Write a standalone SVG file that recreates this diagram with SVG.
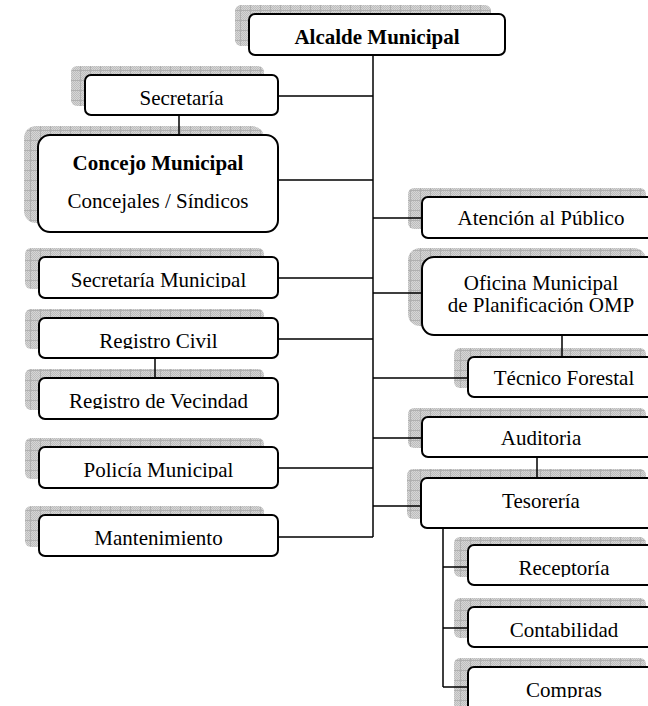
<svg xmlns="http://www.w3.org/2000/svg" width="648" height="706" viewBox="0 0 648 706" font-family="'Liberation Serif', 'Times New Roman', 'DejaVu Serif', serif">
<defs>
<pattern id="dots" width="2" height="2" patternUnits="userSpaceOnUse"><rect width="2" height="2" fill="#d6d6d6"/><rect width="1" height="1" fill="#bdbdbd"/><rect x="1" y="1" width="1" height="1" fill="#bdbdbd"/></pattern>
<pattern id="hatch" width="10" height="10" patternUnits="userSpaceOnUse"><rect width="10" height="10" fill="url(#dots)"/><path d="M0 0.5H10M0.5 0V10" stroke="#b0b0b0" stroke-width="1"/></pattern>
<clipPath id="c-secmun"><rect x="39" y="257" width="239" height="31"/></clipPath>
<clipPath id="c-regciv"><rect x="39" y="318" width="239" height="31"/></clipPath>
<clipPath id="c-regvec"><rect x="39" y="378" width="239" height="31"/></clipPath>
<clipPath id="c-pol"><rect x="39" y="447" width="239" height="31"/></clipPath>
<clipPath id="c-rec"><rect x="468" y="545" width="192" height="32"/></clipPath>
<clipPath id="c-com"><rect x="468" y="667" width="192" height="31"/></clipPath>
</defs>
<style>
.box{fill:#fff;stroke:#000;stroke-width:2}
.sh{fill:url(#hatch)}
.t{font-family:'Liberation Serif','Times New Roman','DejaVu Serif',serif;font-size:21px;text-anchor:middle;fill:#000}
.b{font-weight:bold}
.c{fill:none;stroke:#000;stroke-width:1.5}
</style>
<rect width="648" height="706" fill="#fff"/>

<g id="alcalde"><rect class="sh" x="235" y="5" width="256" height="41" rx="6"/><rect class="box" x="249" y="14" width="256" height="41" rx="6"/><text class="t b" x="377" y="44">Alcalde Municipal</text></g>
<g id="secretaria"><rect class="sh" x="71" y="66" width="193" height="40" rx="6"/><rect class="box" x="85" y="75" width="193" height="40" rx="6"/><text class="t" x="181.5" y="105">Secretaría</text></g>
<g id="concejo"><rect class="sh" x="24" y="126" width="240" height="97" rx="12"/><rect class="box" x="38" y="135" width="240" height="97" rx="12"/><text class="t b" x="158" y="170">Concejo Municipal</text><text class="t" x="158" y="208">Concejales / Síndicos</text></g>
<g id="secretaria-municipal"><rect class="sh" x="25" y="248" width="239" height="41" rx="6"/><rect class="box" x="39" y="257" width="239" height="41" rx="6"/><text class="t" x="158.5" y="286.5" clip-path="url(#c-secmun)">Secretaría Municipal</text></g>
<g id="registro-civil"><rect class="sh" x="25" y="309" width="239" height="40" rx="6"/><rect class="box" x="39" y="318" width="239" height="40" rx="6"/><text class="t" x="158.5" y="347.5" clip-path="url(#c-regciv)">Registro Civil</text></g>
<g id="registro-vecindad"><rect class="sh" x="25" y="369" width="239" height="41" rx="6"/><rect class="box" x="39" y="378" width="239" height="41" rx="6"/><text class="t" x="158.5" y="407.5" clip-path="url(#c-regvec)">Registro de Vecindad</text></g>
<g id="policia"><rect class="sh" x="25" y="438" width="239" height="41" rx="6"/><rect class="box" x="39" y="447" width="239" height="41" rx="6"/><text class="t" x="158.5" y="476.5" clip-path="url(#c-pol)">Policía Municipal</text></g>
<g id="mantenimiento"><rect class="sh" x="25" y="506" width="239" height="41" rx="6"/><rect class="box" x="39" y="515" width="239" height="41" rx="6"/><text class="t" x="158.5" y="545">Mantenimiento</text></g>

<g id="atencion"><rect class="sh" x="408" y="188" width="238" height="41" rx="6"/><rect class="box" x="422" y="197" width="238" height="41" rx="6"/><text class="t" x="541" y="225">Atención al Público</text></g>
<g id="omp"><rect class="sh" x="408" y="248" width="238" height="78" rx="12"/><rect class="box" x="422" y="257" width="238" height="78" rx="12"/><text class="t" x="541" y="290">Oficina Municipal</text><text class="t" x="541" y="312">de Planificación OMP</text></g>
<g id="tecnico"><rect class="sh" x="454" y="348" width="192" height="40" rx="6"/><rect class="box" x="468" y="357" width="192" height="40" rx="6"/><text class="t" x="564" y="385">Técnico Forestal</text></g>
<g id="auditoria"><rect class="sh" x="408" y="408" width="238" height="40" rx="6"/><rect class="box" x="422" y="417" width="238" height="40" rx="6"/><text class="t" x="541" y="445">Auditoria</text></g>
<g id="tesoreria"><rect class="sh" x="407" y="469" width="239" height="50" rx="6"/><rect class="box" x="421" y="478" width="239" height="50" rx="6"/><text class="t" x="541" y="508">Tesorería</text></g>
<g id="receptoria"><rect class="sh" x="454" y="537" width="192" height="40" rx="6"/><rect class="box" x="468" y="545" width="192" height="40" rx="6"/><text class="t" x="564" y="575" clip-path="url(#c-rec)">Receptoría</text></g>
<g id="contabilidad"><rect class="sh" x="454" y="598" width="192" height="40" rx="6"/><rect class="box" x="468" y="607" width="192" height="40" rx="6"/><text class="t" x="564" y="637">Contabilidad</text></g>
<g id="compras"><rect class="sh" x="454" y="658" width="192" height="60" rx="6"/><rect class="box" x="468" y="667" width="192" height="60" rx="6"/><text class="t" x="564" y="697" clip-path="url(#c-com)">Compras</text></g>

<g id="connectors" class="c">
<path d="M373 55V537"/>
<path d="M278 96H373M278 180H373M278 278H373M278 339H373M278 468H373M278 537H373"/>
<path d="M373 218H422M373 293H422M373 378H468M373 438H422M373 506H421"/>
<path d="M179 115V135M155 358V378M562 335V357M537 457V478"/>
<path d="M443 528V687M443 567H468M443 628H468M443 687H468"/>
</g>
</svg>
